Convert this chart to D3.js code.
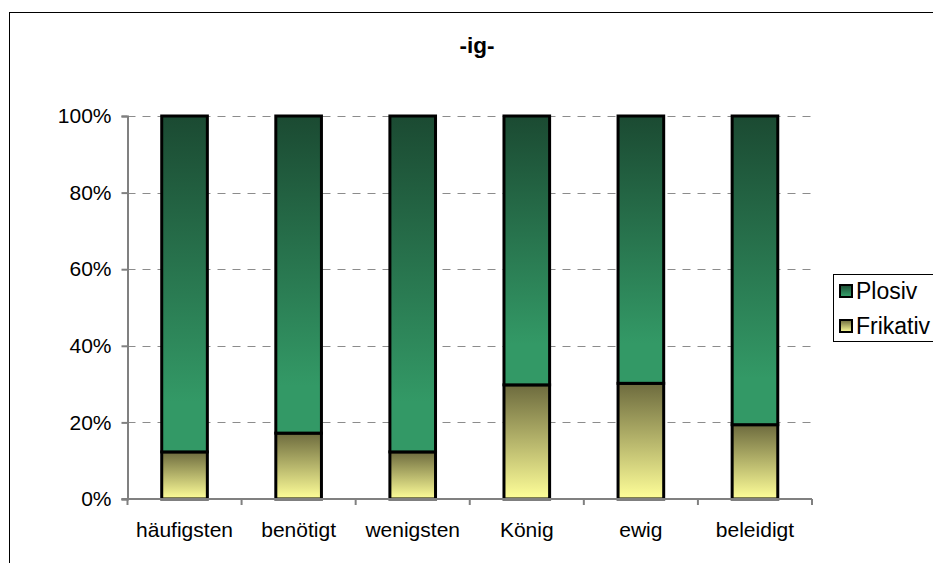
<!DOCTYPE html>
<html>
<head>
<meta charset="utf-8">
<script src="https://cdn.jsdelivr.net/npm/d3@7"></script>
<style>
  html, body { margin: 0; padding: 0; background: #fff; }
  svg { display: block; font-family: "Liberation Sans", Arial, sans-serif; }
</style>
</head>
<body>
<svg id="chart" width="933" height="563"></svg>
<script>
// Word categories and the share of each realisation (percent)
const categories = ["häufigsten", "benötigt", "wenigsten", "König", "ewig", "beleidigt"];
const frikativ = [12.3, 17.2, 12.3, 29.8, 30.2, 19.4];
const plosiv = frikativ.map(v => 100 - v);
const seriesNames = ["Frikativ", "Plosiv"];
const yTicks = [0, 20, 40, 60, 80, 100];
const title = "-ig-";

const svg = d3.select("#chart");

// gradients for the two series
const defs = svg.append("defs");
function grad(id, stops) {
  const g = defs.append("linearGradient").attr("id", id)
    .attr("x1", 0).attr("y1", 0).attr("x2", 0).attr("y2", 1);
  stops.forEach(s => g.append("stop").attr("offset", s[0]).attr("stop-color", s[1]));
}
grad("gPlosiv", [[0, "#1b4a32"], [0.85, "#339966"], [1, "#339966"]]);
grad("gFrikativ", [[0, "#6d6b3e"], [1, "#ffff99"]]);
const fills = { Plosiv: "url(#gPlosiv)", Frikativ: "url(#gFrikativ)" };

// outer frame
svg.append("rect").attr("x", 9.5).attr("y", 12.5).attr("width", 940).attr("height", 560)
  .attr("fill", "none").attr("stroke", "#000").attr("stroke-width", 1);

const plot = { left: 127.5, right: 812, top: 116, bottom: 499 };

const x = d3.scaleBand().domain(categories).range([plot.left, plot.right]).paddingInner(0.6).paddingOuter(0.3);
const xOuter = d3.scaleBand().domain(categories).range([plot.left, plot.right]);
const y = d3.scaleLinear().domain([0, 100]).range([plot.bottom, plot.top]);

// gridlines
svg.append("g").selectAll("line").data(yTicks.filter(t => t > 0)).join("line")
  .attr("x1", plot.left).attr("x2", plot.right)
  .attr("y1", d => Math.round(y(d)) + 0.5).attr("y2", d => Math.round(y(d)) + 0.5)
  .attr("stroke", "#8c8c8c").attr("stroke-width", 1).attr("stroke-dasharray", "8,7");

// stacked bars
const table = categories.map((c, i) => ({ cat: c, Frikativ: frikativ[i], Plosiv: plosiv[i] }));
const stacked = d3.stack().keys(seriesNames)(table);
svg.append("g").selectAll("g").data(stacked).join("g")
  .attr("fill", d => fills[d.key])
  .selectAll("rect").data(d => d).join("rect")
  .attr("x", d => x(d.data.cat))
  .attr("width", x.bandwidth())
  .attr("y", d => y(d[1]))
  .attr("height", d => y(d[0]) - y(d[1]))
  .attr("stroke", "#000").attr("stroke-width", 3);

// y axis
const yAxis = svg.append("g").attr("transform", `translate(${plot.left},0)`)
  .call(d3.axisLeft(y).tickValues(yTicks).tickFormat(d => d + "%").tickSize(6).tickPadding(10));
yAxis.select(".domain").attr("stroke", "#808080").attr("stroke-width", 2);
yAxis.selectAll(".tick line").attr("stroke", "#808080").attr("stroke-width", 2);
yAxis.selectAll("text").attr("font-size", 21).attr("fill", "#000")
  .attr("font-family", "Liberation Sans, Arial, sans-serif");

// x axis: ticks between categories
const xAxisG = svg.append("g");
xAxisG.append("line").attr("x1", plot.left - 6).attr("x2", plot.right)
  .attr("y1", plot.bottom).attr("y2", plot.bottom)
  .attr("stroke", "#808080").attr("stroke-width", 2);
const bounds = categories.map(c => xOuter(c)).concat([plot.right]);
xAxisG.selectAll("line.tk").data(bounds).join("line").attr("class", "tk")
  .attr("x1", d => d).attr("x2", d => d)
  .attr("y1", plot.bottom).attr("y2", plot.bottom + 6)
  .attr("stroke", "#808080").attr("stroke-width", 2);
xAxisG.selectAll("text").data(categories).join("text")
  .attr("x", d => xOuter(d) + xOuter.bandwidth() / 2)
  .attr("y", 537)
  .attr("text-anchor", "middle").attr("font-size", 21).attr("fill", "#000")
  .text(d => d);

// title
svg.append("text").attr("x", 477).attr("y", 53).attr("text-anchor", "middle")
  .attr("font-size", 22.5).attr("font-weight", "bold").text(title);

// legend
const lg = svg.append("g");
lg.append("rect").attr("x", 833.5).attr("y", 274.5).attr("width", 120).attr("height", 67)
  .attr("fill", "#fff").attr("stroke", "#000").attr("stroke-width", 1);
const legendItems = ["Plosiv", "Frikativ"];
legendItems.forEach((name, i) => {
  const cy = 291 + i * 35;
  lg.append("rect").attr("x", 840).attr("y", cy - 6).attr("width", 12).attr("height", 12)
    .attr("fill", fills[name]).attr("stroke", "#000").attr("stroke-width", 2);
  lg.append("text").attr("x", 856).attr("y", cy).attr("dy", "0.36em")
    .attr("font-size", 23).attr("fill", "#000").text(name);
});
</script>
</body>
</html>
